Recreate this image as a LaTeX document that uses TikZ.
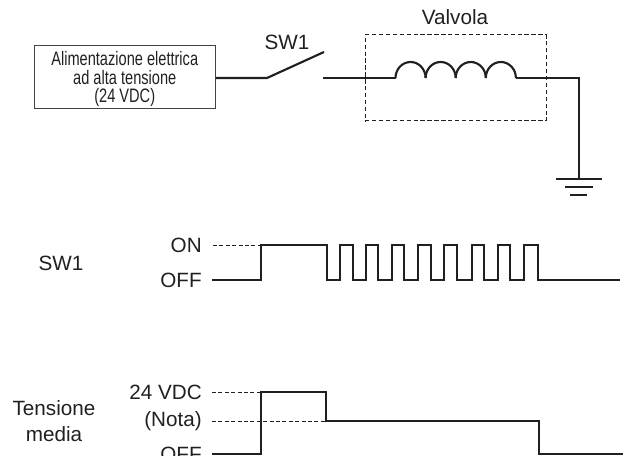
\documentclass[tikz,border=0pt]{standalone}
\usepackage{fontspec}
\setmainfont{Liberation Sans}
\newfontfamily\condfont[FakeStretch=0.75]{Liberation Sans}
\definecolor{inkdark}{HTML}{231F20}
\tikzset{
    wire/.style={line width=1.6pt, color=inkdark},
    wave/.style={line width=1.3pt, color=inkdark},
    guide/.style={line width=0.7pt, color=inkdark, dash pattern=on 3pt off 1.8pt},
    levellabel/.style={anchor=east, inner sep=0pt, text=inkdark, font=\fontsize{15.5}{15.5}\selectfont},
    sidelabel/.style={inner sep=0pt, text=inkdark, align=center, font=\fontsize{15.5}{19.5}\selectfont},
}

\begin{document}
\begin{tikzpicture}[x=0.75pt, y=-0.75pt]
    \clip (0, 0) rectangle (624, 456);

    % supply, switch and valve
    \node[draw=inkdark!85, line width=0.75pt, minimum width=135.75pt, minimum height=47pt, inner sep=0pt] (supply) at (124.75, 77) {};
    \node[inner sep=0pt, align=center, text=inkdark, font=\condfont\fontsize{14.6}{13.8}\selectfont] (supplytext) at (124.75, 79) {Alimentazione elettrica\\ad alta tensione\\(24 VDC)};
    \node[sidelabel] (swlabel) at (287, 42) {SW1};
    \node[sidelabel] (valvelabel) at (455, 17) {Valvola};
    \node[draw=inkdark, line width=0.75pt, dash pattern=on 3.2pt off 2pt, minimum width=135.75pt, minimum height=64.5pt, inner sep=0pt] (valve) at (455.5, 78) {};

    \coordinate (swleft) at (267, 78);
    \coordinate (swright) at (324, 52);
    \coordinate (swout) at (323, 78);
    \coordinate (coilleft) at (395.5, 78);
    \coordinate (coilright) at (516, 78);
    \coordinate (corner) at (579, 78);
    \coordinate (ground) at (579, 179);

    \draw[wire] (supply.east |- swleft) -- (swleft) -- (swright);
    \draw[wire] (swout) -- (coilleft);
    \foreach \turn in {0, 1, 2, 3} {
        \draw[wire] (coilleft) ++(30.1*\turn, 0) arc[start angle=180, end angle=360, x radius=15.05, y radius=16];
    }
    \draw[wire] (coilright) -- (corner) -- (ground);

    \draw[wire] (556, 179) -- (602, 179);
    \draw[wire] (565, 187) -- (593, 187);
    \draw[wire] (570, 195) -- (587, 195);

    % switch timing
    \node[sidelabel] (swname) at (61, 263) {SW1};
    \node[levellabel] (swon) at (202, 245) {ON};
    \node[levellabel] (swoff) at (202, 280) {OFF};
    \coordinate (swstart) at (212, 280);
    \coordinate (swrise) at (261, 280);
    \coordinate (swhigh) at (261, 245);
    \coordinate (swend) at (620, 280);

    \draw[guide] (213, 245) -- (swhigh);
    \draw[wave] (swstart) -- (swrise) -- (swhigh)
        -- (327, 245) -- (327, 280) -- (340, 280) -- (340, 245)
        -- (353, 245) -- (353, 280) -- (366, 280) -- (366, 245)
        -- (378, 245) -- (378, 280) -- (392, 280) -- (392, 245)
        -- (404, 245) -- (404, 280) -- (418, 280) -- (418, 245)
        -- (431, 245) -- (431, 280) -- (444, 280) -- (444, 245)
        -- (457, 245) -- (457, 280) -- (472, 280) -- (472, 245)
        -- (484, 245) -- (484, 280) -- (498, 280) -- (498, 245)
        -- (510, 245) -- (510, 280) -- (524, 280) -- (524, 245)
        -- (538, 245) -- (538, 280) -- (swend);

    % mean voltage timing
    \node[sidelabel] (voltname) at (54, 421) {Tensione\\media};
    \node[levellabel] (volthigh) at (202, 392) {24 VDC};
    \node[levellabel] (voltnote) at (202, 421) {(Nota)};
    \node[levellabel] (voltoff) at (202, 454) {OFF};
    \coordinate (voltstart) at (212, 454);
    \coordinate (voltrise) at (261, 454);
    \coordinate (volttop) at (261, 392);
    \coordinate (voltfall) at (326, 392);
    \coordinate (voltmid) at (326, 421);
    \coordinate (voltdrop) at (539, 421);
    \coordinate (voltlow) at (539, 454);
    \coordinate (voltend) at (623, 454);

    \draw[guide] (212, 392) -- (volttop);
    \draw[guide] (212, 421) -- (voltmid);
    \draw[wave] (voltstart) -- (voltrise) -- (volttop) -- (voltfall) -- (voltmid) -- (voltdrop) -- (voltlow) -- (voltend);
\end{tikzpicture}
\end{document}
